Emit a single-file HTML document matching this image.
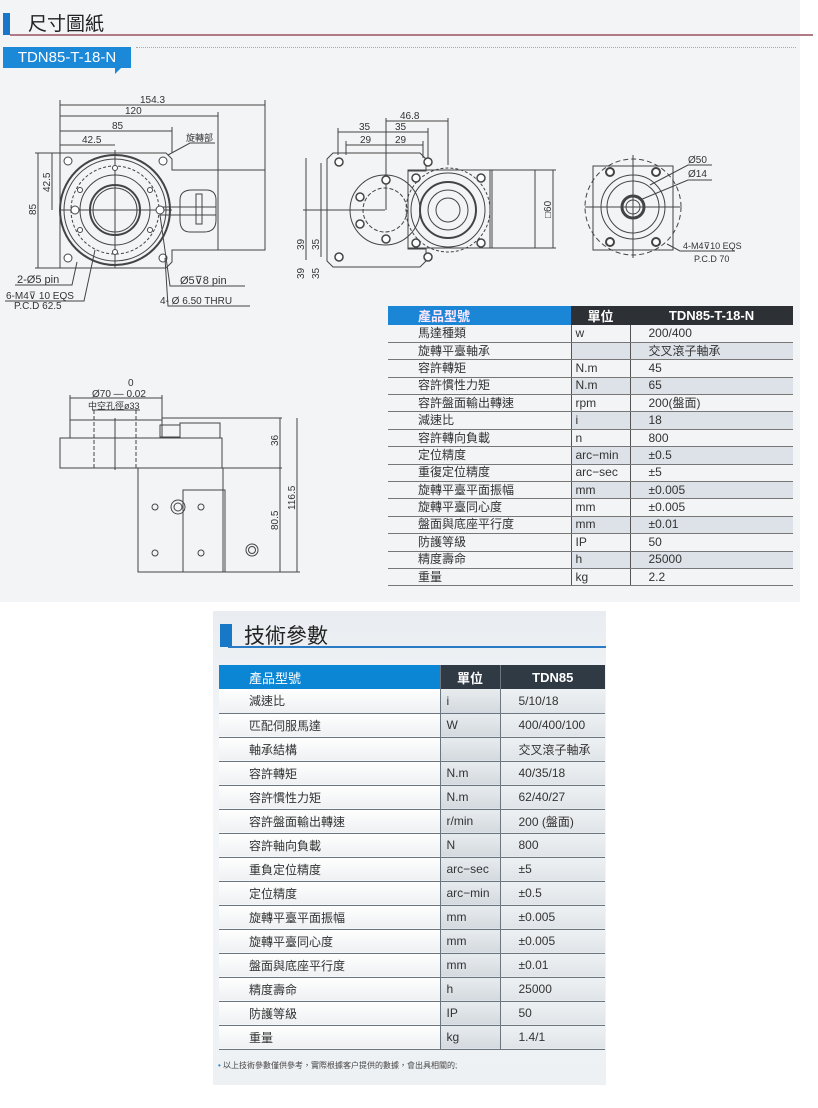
<!DOCTYPE html>
<html><head><meta charset="utf-8"><style>
*{margin:0;padding:0;box-sizing:border-box}
body{width:818px;height:1108px;background:#fff;position:relative;overflow:hidden;font-family:"Liberation Sans","Noto Sans CJK TC",sans-serif;color:#333}
.top{position:absolute;left:0;top:0;width:800px;height:602px;background:#f3f4f6}
.abs{position:absolute}
table{border-collapse:collapse;position:absolute}
.t1{left:388px;top:306px;width:405px;font-size:12px}
.t1 td{height:17.4px;border-bottom:1.5px solid #777;padding:0 0 0 4px;line-height:15px;white-space:nowrap}
.t1 td.c1{padding-left:30px;width:183px;border-right:1.5px solid #555}
.t1 td.c2{width:59px;border-right:1.5px solid #555}
.t1 td.c3{padding-left:18px}
.t1 tr.g td.c2,.t1 tr.g td.c3{background:#dde2e8}
.t1 th{height:17px;font-weight:bold;color:#fff;background:#2d3035;font-size:13px}
.t1 th.h1{background:#1b86d6;text-align:left;padding-left:30px;color:#ffe8ff}
.t2{left:219px;top:665px;width:386px;font-size:12px}
.t2 td{height:24px;border-bottom:1.5px solid #6b7680;padding-left:30px;white-space:nowrap;background:linear-gradient(#fff,#eef0f2)}
.t2 td.c2{padding-left:6px;border-left:1.5px solid #6b7680;background:linear-gradient(#e8ecef,#d3d9de)}
.t2 td.c3{padding-left:18px;border-left:1.5px solid #6b7680;background:linear-gradient(#eef1f3,#dfe4e8)}
.t2 th{height:24px;color:#fff;background:#2f3a45;font-size:13px;border-left:1.5px solid #6b7680}
.t2 th.h1{background:#0a86d4;text-align:left;padding-left:30px;font-weight:normal;border:none}
</style></head><body>
<div class="top"></div>
<div class="abs" style="left:3px;top:13px;width:7px;height:22px;background:#1877c9"></div>
<div class="abs" style="left:28px;top:9px;font-size:19px;color:#222">尺寸圖紙</div>
<div class="abs" style="left:10px;top:34px;width:803px;height:1.5px;background:#b07a86"></div>
<div class="abs" style="left:136px;top:47px;width:660px;border-top:1px dotted #aaa"></div>
<div class="abs" style="left:3px;top:47px;width:128px;height:21px;background:#1b88d8;color:#fff;font-size:15px;line-height:21px;text-align:center;white-space:nowrap">TDN85-T-18-N</div>
<div class="abs" style="left:115px;top:68px;width:0;height:0;border-left:6px solid #1b88d8;border-bottom:6px solid transparent"></div>

<svg class="abs" style="left:0;top:0" width="800" height="600" fill="none" stroke="#444" stroke-width="1" font-family="Liberation Sans" font-size="10">
<g>
<line x1="60" y1="105" x2="265" y2="105"/><line x1="60" y1="116" x2="218" y2="116"/><line x1="60" y1="131" x2="172" y2="131"/><line x1="60" y1="145" x2="115" y2="145"/>
<line x1="60" y1="100" x2="60" y2="153"/><line x1="265" y1="100" x2="265" y2="170"/><line x1="218" y1="112" x2="218" y2="170"/><line x1="172" y1="127" x2="172" y2="153"/>
<line x1="38" y1="153" x2="38" y2="268"/><line x1="52" y1="153" x2="52" y2="210"/><line x1="35" y1="153" x2="60" y2="153"/><line x1="35" y1="268" x2="60" y2="268"/>
<path d="M60 153H166l6 6v11h46v80h-46v12l-6 6H60z"/>
<rect x="218" y="170" width="47" height="80"/>
<circle cx="115" cy="210" r="55" stroke-width="2"/><circle cx="115" cy="210" r="51"/><circle cx="115" cy="210" r="44" stroke-dasharray="3 2"/>
<circle cx="115" cy="210" r="35"/><circle cx="115" cy="210" r="25" stroke-width="2"/><circle cx="115" cy="210" r="22"/>
<line x1="60" y1="210" x2="172" y2="210"/><line x1="115" y1="150" x2="115" y2="268"/>
<path d="M180 200q0-10 12-10h14q10 0 10 10v20q0 12-12 12h-14q-10 0-10-12z"/><rect x="196" y="194" width="6" height="30"/><rect x="160" y="207" width="56" height="8"/>
<g fill="#fff"><circle cx="68" cy="161" r="4"/><circle cx="163" cy="161" r="4"/><circle cx="68" cy="258" r="4"/><circle cx="163" cy="258" r="4"/>
<circle cx="75" cy="210" r="4"/><circle cx="160" cy="210" r="4"/><circle cx="115" cy="168" r="2.5"/><circle cx="115" cy="252" r="2.5"/><circle cx="80" cy="190" r="2.5"/><circle cx="150" cy="190" r="2.5"/><circle cx="80" cy="230" r="2.5"/><circle cx="150" cy="230" r="2.5"/></g>
<polyline points="77,262 72,285 15,285"/><polyline points="95,250 84,301 5,301"/><polyline points="168,155 190,143 215,143"/><polyline points="160,215 170,286 245,286"/><polyline points="165,258 168,306 250,306"/>
</g>
<g fill="#333" stroke="none">
<text x="140" y="103">154.3</text><text x="125" y="114">120</text><text x="112" y="129">85</text><text x="82" y="143">42.5</text>
<text x="186" y="141" font-size="9">旋轉部</text>
<text transform="translate(36,215) rotate(-90)">85</text><text transform="translate(50,192) rotate(-90)">42.5</text>
<text x="17" y="283" font-size="11">2-Ø5 pin</text><text x="6" y="299" font-size="10">6-M4⊽ 10 EQS</text><text x="14" y="309" font-size="10">P.C.D 62.5</text>
<text x="180" y="284" font-size="11">Ø5⊽8 pin</text><text x="160" y="304" font-size="10">4-    Ø 6.50 THRU</text>
</g>
<g>
<line x1="386" y1="121" x2="448" y2="121"/><line x1="338" y1="132" x2="428" y2="132"/><line x1="346" y1="145" x2="423" y2="145"/>
<line x1="386" y1="118" x2="386" y2="210"/><line x1="448" y1="118" x2="448" y2="165"/><line x1="338" y1="128" x2="338" y2="155"/><line x1="428" y1="128" x2="428" y2="158"/><line x1="346" y1="141" x2="346" y2="155"/><line x1="423" y1="141" x2="423" y2="158"/>
<line x1="306" y1="158" x2="306" y2="260"/><line x1="321" y1="163" x2="321" y2="257"/><line x1="303" y1="210" x2="385" y2="210"/>
<path d="M333 153H420l6 6v12H408v78h18v12l-6 6H333l-6-6V159z"/>
<circle cx="385" cy="210" r="35"/><circle cx="385" cy="210" r="22" stroke-dasharray="4 2"/>
<rect x="408" y="170" width="82" height="78"/><rect x="490" y="170" width="45" height="78"/><line x1="492" y1="170" x2="492" y2="248"/>
<circle cx="448" cy="210" r="42" stroke-dasharray="3 2"/><circle cx="448" cy="210" r="37"/><circle cx="448" cy="210" r="28" stroke-width="2"/><circle cx="448" cy="210" r="20"/><circle cx="448" cy="210" r="12"/>
<line x1="553" y1="170" x2="553" y2="248"/><line x1="535" y1="170" x2="556" y2="170"/><line x1="535" y1="248" x2="556" y2="248"/>
<g fill="#fff" stroke-width="1.5"><circle cx="386" cy="180" r="4"/><circle cx="386" cy="239" r="4"/><circle cx="360" cy="197" r="4"/><circle cx="360" cy="224" r="4"/>
<circle cx="416" cy="178" r="4"/><circle cx="481" cy="178" r="4"/><circle cx="416" cy="243" r="4"/><circle cx="481" cy="243" r="4"/>
<circle cx="339" cy="162" r="4"/><circle cx="428" cy="162" r="4"/><circle cx="339" cy="257" r="4"/><circle cx="428" cy="257" r="4"/></g>
</g>
<g fill="#333" stroke="none">
<text x="400" y="119">46.8</text><text x="359" y="130">35</text><text x="395" y="130">35</text><text x="360" y="143">29</text><text x="395" y="143">29</text>
<text transform="translate(304,250) rotate(-90)">39</text><text transform="translate(319,250) rotate(-90)">35</text>
<text transform="translate(304,279) rotate(-90)">39</text><text transform="translate(319,279) rotate(-90)">35</text>
<text transform="translate(551,218) rotate(-90)">□60</text>
</g>
<g>
<rect x="593" y="166" width="80" height="84"/>
<circle cx="633" cy="207" r="48" stroke-dasharray="5 3"/><circle cx="633" cy="207" r="32"/><circle cx="633" cy="207" r="26"/><circle cx="633" cy="207" r="11" stroke-width="3"/><circle cx="633" cy="207" r="7"/>
<line x1="585" y1="207" x2="680" y2="207"/><line x1="633" y1="155" x2="633" y2="258"/>
<g fill="#fff" stroke-width="2"><circle cx="610" cy="172" r="4"/><circle cx="656" cy="172" r="4"/><circle cx="610" cy="242" r="4"/><circle cx="656" cy="242" r="4"/></g>
<polyline points="650,185 688,165 712,165"/><polyline points="640,200 688,180 712,180"/><polyline points="667,244 680,251 735,251"/>
</g>
<g fill="#333" stroke="none"><text x="688" y="163">Ø50</text><text x="688" y="177">Ø14</text><text x="683" y="249" font-size="9">4-M4⊽10 EQS</text><text x="694" y="262" font-size="9">P.C.D 70</text></g>
<g>
<line x1="70" y1="398" x2="162" y2="398"/><line x1="70" y1="395" x2="70" y2="420"/><line x1="162" y1="395" x2="162" y2="420"/><line x1="92" y1="410" x2="140" y2="410"/>
<rect x="70" y="420" width="92" height="18"/><rect x="60" y="438" width="162" height="30"/>
<rect x="160" y="425" width="20" height="12"/><rect x="180" y="423" width="40" height="15"/>
<line x1="94" y1="410" x2="94" y2="470" stroke-dasharray="4 2"/><line x1="136" y1="410" x2="136" y2="470" stroke-dasharray="4 2"/><line x1="115" y1="418" x2="115" y2="470"/>
<path d="M138 468V572h45V490h42"/><rect x="183" y="490" width="42" height="82"/><rect x="138" y="468" width="85" height="104"/>
<line x1="162" y1="418" x2="282" y2="418"/><line x1="222" y1="468" x2="282" y2="468"/><line x1="225" y1="572" x2="300" y2="572"/>
<line x1="280" y1="418" x2="280" y2="572"/><line x1="297" y1="418" x2="297" y2="572"/>
<circle cx="155" cy="507" r="3"/><circle cx="201" cy="507" r="3"/><circle cx="155" cy="553" r="3"/><circle cx="201" cy="553" r="3"/>
<circle cx="178" cy="507" r="7"/><circle cx="178" cy="507" r="4"/><circle cx="252" cy="550" r="6"/><circle cx="252" cy="550" r="3.5"/>
</g>
<g fill="#333" stroke="none"><text x="128" y="386">0</text><text x="92" y="397">Ø70 — 0.02</text><text x="88" y="409" font-size="9">中空孔徑ø33</text>
<text transform="translate(278,446) rotate(-90)">36</text><text transform="translate(278,530) rotate(-90)">80.5</text><text transform="translate(295,510) rotate(-90)">116.5</text></g>
</svg>

<table class="t1">
<tr><th class="h1">產品型號</th><th>單位</th><th>TDN85-T-18-N</th></tr>
<tr><td class="c1">馬達種類</td><td class="c2">w</td><td class="c3">200/400</td></tr>
<tr class="g"><td class="c1">旋轉平臺軸承</td><td class="c2"></td><td class="c3">交叉滾子軸承</td></tr>
<tr><td class="c1">容許轉矩</td><td class="c2">N.m</td><td class="c3">45</td></tr>
<tr class="g"><td class="c1">容許慣性力矩</td><td class="c2">N.m</td><td class="c3">65</td></tr>
<tr><td class="c1">容許盤面輸出轉速</td><td class="c2">rpm</td><td class="c3">200(盤面)</td></tr>
<tr class="g"><td class="c1">減速比</td><td class="c2">i</td><td class="c3">18</td></tr>
<tr><td class="c1">容許轉向負載</td><td class="c2">n</td><td class="c3">800</td></tr>
<tr class="g"><td class="c1">定位精度</td><td class="c2">arc−min</td><td class="c3">±0.5</td></tr>
<tr><td class="c1">重復定位精度</td><td class="c2">arc−sec</td><td class="c3">±5</td></tr>
<tr class="g"><td class="c1">旋轉平臺平面振幅</td><td class="c2">mm</td><td class="c3">±0.005</td></tr>
<tr><td class="c1">旋轉平臺同心度</td><td class="c2">mm</td><td class="c3">±0.005</td></tr>
<tr class="g"><td class="c1">盤面與底座平行度</td><td class="c2">mm</td><td class="c3">±0.01</td></tr>
<tr><td class="c1">防護等級</td><td class="c2">IP</td><td class="c3">50</td></tr>
<tr class="g"><td class="c1">精度壽命</td><td class="c2">h</td><td class="c3">25000</td></tr>
<tr><td class="c1">重量</td><td class="c2">kg</td><td class="c3">2.2</td></tr>
</table>

<div class="abs" style="left:213px;top:611px;width:393px;height:474px;background:linear-gradient(#e9edf1,#f4f6f8 30%,#eef1f4)"></div>
<div class="abs" style="left:220px;top:624px;width:12px;height:23px;background:#1878c8"></div>
<div class="abs" style="left:244px;top:620px;font-size:21px;color:#222">技術參數</div>
<div class="abs" style="left:228px;top:646px;width:378px;height:1.5px;background:#2a7bc4"></div>
<table class="t2">
<tr><th class="h1" style="width:221px">產品型號</th><th style="width:60px">單位</th><th>TDN85</th></tr>
<tr><td>減速比</td><td class="c2">i</td><td class="c3">5/10/18</td></tr>
<tr><td>匹配伺服馬達</td><td class="c2">W</td><td class="c3">400/400/100</td></tr>
<tr><td>軸承結構</td><td class="c2"></td><td class="c3">交叉滾子軸承</td></tr>
<tr><td>容許轉矩</td><td class="c2">N.m</td><td class="c3">40/35/18</td></tr>
<tr><td>容許慣性力矩</td><td class="c2">N.m</td><td class="c3">62/40/27</td></tr>
<tr><td>容許盤面輸出轉速</td><td class="c2">r/min</td><td class="c3">200 (盤面)</td></tr>
<tr><td>容許軸向負載</td><td class="c2">N</td><td class="c3">800</td></tr>
<tr><td>重負定位精度</td><td class="c2">arc−sec</td><td class="c3">±5</td></tr>
<tr><td>定位精度</td><td class="c2">arc−min</td><td class="c3">±0.5</td></tr>
<tr><td>旋轉平臺平面振幅</td><td class="c2">mm</td><td class="c3">±0.005</td></tr>
<tr><td>旋轉平臺同心度</td><td class="c2">mm</td><td class="c3">±0.005</td></tr>
<tr><td>盤面與底座平行度</td><td class="c2">mm</td><td class="c3">±0.01</td></tr>
<tr><td>精度壽命</td><td class="c2">h</td><td class="c3">25000</td></tr>
<tr><td>防護等級</td><td class="c2">IP</td><td class="c3">50</td></tr>
<tr><td>重量</td><td class="c2">kg</td><td class="c3">1.4/1</td></tr>
</table>
<div class="abs" style="left:218px;top:1060px;font-size:8px;color:#444"><span style="color:#1a86d6">•</span>  以上技術參數僅供參考，實際根據客户提供的數據，會出具相關的;</div>
</body></html>
